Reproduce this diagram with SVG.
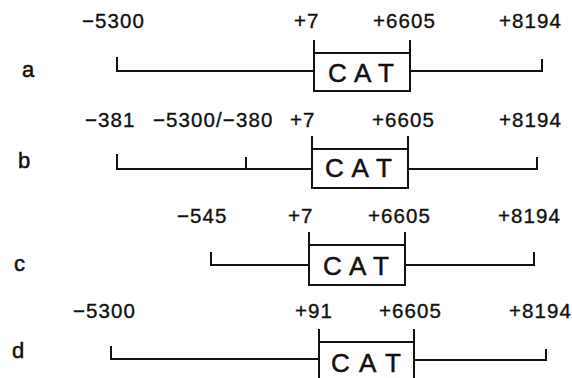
<svg xmlns="http://www.w3.org/2000/svg" width="572" height="378" viewBox="0 0 572 378">
<style>
.bg{fill:#fff}
.ln{fill:none;stroke:#111;stroke-width:2;stroke-linecap:square}
.box{fill:#fff;stroke:#111;stroke-width:2}
.lab{font-family:"Liberation Sans",Arial,sans-serif;font-size:20.5px;letter-spacing:1.1px;fill:#111;stroke:#111;stroke-width:0.35}
.row{font-family:"Liberation Sans",Arial,sans-serif;font-size:22px;fill:#111;stroke:#111;stroke-width:0.5}
.cat{font-family:"Liberation Sans",Arial,sans-serif;font-size:26px;fill:#111;stroke:#111;stroke-width:0.5}
</style>
<rect class="bg" width="572" height="378"/>
<g id="row-a">
  <text class="row" x="22" y="77">a</text>
  <text class="lab" x="82" y="28">−5300</text>
  <text class="lab" x="294" y="28">+7</text>
  <text class="lab" x="373" y="28">+6605</text>
  <text class="lab" x="499" y="28">+8194</text>
  <path class="ln" d="M117,58 V71 H314 M410,71 H542 V60 M314,41 V53 M410,41 V53"/>
  <rect class="box" x="314" y="53" width="96" height="38"/>
  <text class="cat" x="328" y="82" textLength="66">C A T</text>
</g>
<g id="row-b">
  <text class="row" x="18" y="168">b</text>
  <text class="lab" x="85" y="127">−381</text>
  <text class="lab" x="153" y="127">−5300/−380</text>
  <text class="lab" x="290" y="127">+7</text>
  <text class="lab" x="372" y="127">+6605</text>
  <text class="lab" x="499" y="127">+8194</text>
  <path class="ln" d="M117,155 V169 H312 M246,158 V169 M408,169 H537 V158 M312,137 V149 M408,137 V149"/>
  <rect class="box" x="312" y="149" width="96" height="39"/>
  <text class="cat" x="325" y="177" textLength="67">C A T</text>
</g>
<g id="row-c">
  <text class="row" x="14" y="271">c</text>
  <text class="lab" x="177" y="223">−545</text>
  <text class="lab" x="288" y="223">+7</text>
  <text class="lab" x="368" y="223">+6605</text>
  <text class="lab" x="498" y="223">+8194</text>
  <path class="ln" d="M211,253 V265 H309 M405,265 H534 V253 M309,233 V245 M405,233 V245"/>
  <rect class="box" x="309" y="245" width="96" height="40"/>
  <text class="cat" x="323" y="275" textLength="66">C A T</text>
</g>
<g id="row-d">
  <text class="row" x="12" y="358">d</text>
  <text class="lab" x="73" y="318">−5300</text>
  <text class="lab" x="295" y="318">+91</text>
  <text class="lab" x="379" y="318">+6605</text>
  <text class="lab" x="509" y="318">+8194</text>
  <path class="ln" d="M111,347 V359 H319 M414,360 H546 V350 M319,330 V342 M414,330 V342"/>
  <rect class="box" x="319" y="342" width="95" height="45"/>
  <text class="cat" x="331" y="372" textLength="70">C A T</text>
</g>
</svg>
